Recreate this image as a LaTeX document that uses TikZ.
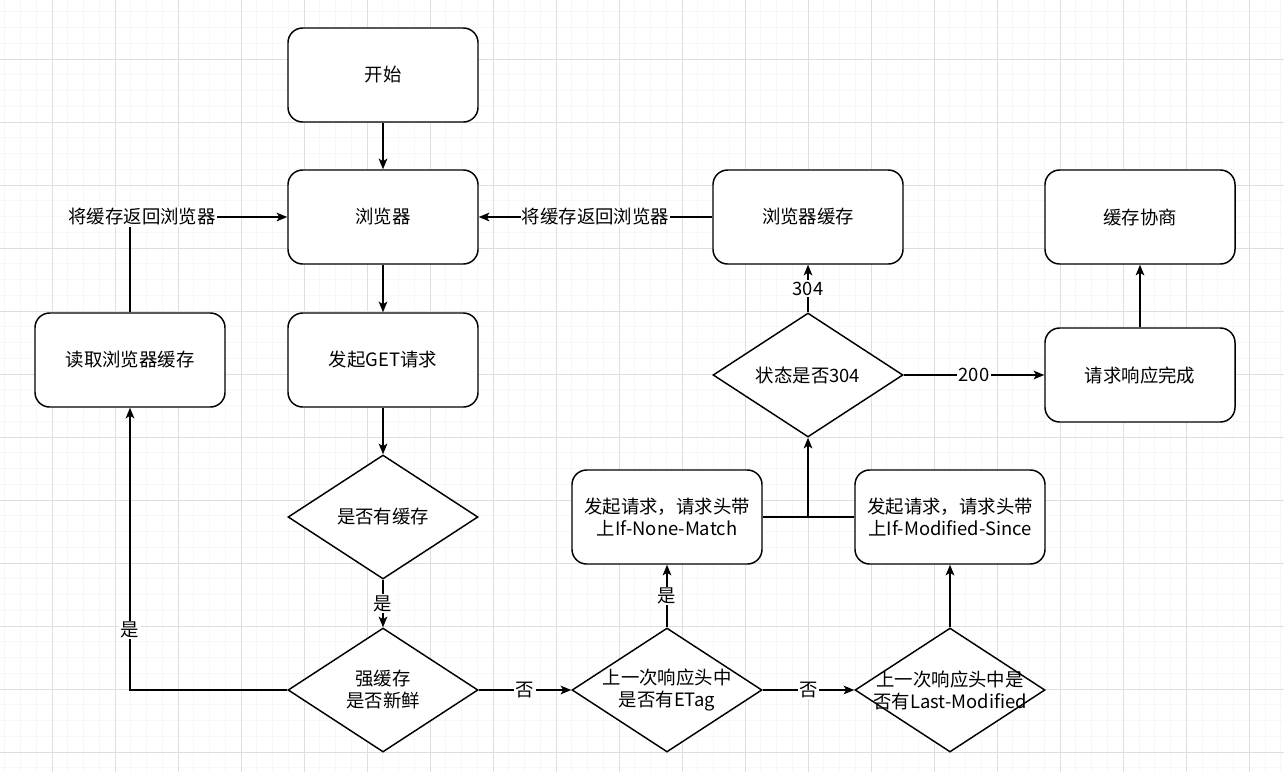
\documentclass[tikz,border=0pt]{standalone}
\usepackage{fontspec}
\setmainfont{Noto Sans CJK SC}
\usetikzlibrary{shapes.geometric,arrows.meta}

\begin{document}
\begin{tikzpicture}[x=0.75pt,y=-0.75pt,
    font=\fontsize{13.8}{16.5}\selectfont,
    line width=1.1pt,
    box/.style={draw,rounded corners=11pt,minimum width=142.5pt,minimum height=70.5pt,align=center,fill=white},
    dia/.style={draw,diamond,minimum width=142.5pt,minimum height=93pt,inner sep=0pt,align=center,fill=white},
    diatext/.style={label={[align=center]center:#1}},
    arr/.style={-{Stealth[length=8pt,width=6.5pt,inset=2pt]}},
    lbl/.style={fill=white,inner sep=1pt},
    gridmaj/.style={draw=black!13,line width=0.6pt},
    gridmin/.style={draw=black!3,line width=0.4pt}]

    \useasboundingbox (0,0) rectangle (1284,772);
    \fill[white] (0,0) rectangle (1284,772);

    % background grid
    \begin{scope}
        \clip (0,0) rectangle (1284,772);
        \foreach \i in {0,...,84} \draw[gridmin] ({-11+15.75*\i},0) -- ({-11+15.75*\i},772);
        \foreach \j in {0,...,52} \draw[gridmin] (0,{-4+15.75*\j}) -- (1284,{-4+15.75*\j});
        \foreach \i in {0,...,21} \draw[gridmaj] ({-11+63*\i},0) -- ({-11+63*\i},772);
        \foreach \j in {0,...,13} \draw[gridmaj] (0,{-4+63*\j}) -- (1284,{-4+63*\j});
    \end{scope}

    \node[box] (start)   at (383,75)  {开始};
    \node[box] (browser) at (383,217) {浏览器};
    \node[box] (get)     at (383,360) {发起GET请求};
    \node[box] (readc)   at (130,360) {读取浏览器缓存};
    \node[dia] (hasc)    at (383,517) {是否有缓存};
    \node[dia] (fresh)   at (383,690) {强缓存\\是否新鲜};
    \node[dia,diatext={上一次响应头中\\是否有ETag}] (etag) at (667,690) {};
    \node[dia,diatext={上一次响应头中是\\否有Last-Modified}] (lastmod) at (950,690) {};
    \node[box] (nonematch) at (667,517) {发起请求，请求头带\\上If-None-Match};
    \node[box] (modsince)  at (950,517) {发起请求，请求头带\\上If-Modified-Since};
    \node[dia] (status)  at (808,375) {状态是否304};
    \node[box] (bcache)  at (808,217) {浏览器缓存};
    \node[box] (done)    at (1140,375) {请求响应完成};
    \node[box] (nego)    at (1140,217) {缓存协商};

    \draw[arr] (start) -- (browser);
    \draw[arr] (browser) -- (get);
    \draw[arr] (get) -- (hasc);
    \draw[arr] (hasc) -- node[lbl] {是} (fresh);

    % cache is fresh: read it and hand it back
    \draw[arr] (fresh.west) -| (readc.south);
    \node[lbl] (yesfresh) at (130,630) {是};
    \draw[arr] (readc.north) |- (browser.west);
    \node[lbl] (backleft) at (142,217) {将缓存返回浏览器};

    \draw[arr] (fresh) -- node[lbl] {否} (etag);
    \draw[arr] (etag) -- node[lbl] {是} (nonematch);
    \draw[arr] (etag) -- node[lbl] {否} (lastmod);
    \draw[arr] (lastmod) -- (modsince);

    \coordinate (join) at (status.south |- nonematch.east);
    \draw (nonematch.east) -- (modsince.west);
    \draw[arr] (join) -- (status.south);

    \draw[arr] (status) -- node[lbl] {304} (bcache);
    \draw[arr] (status) -- node[lbl] {200} (done);
    \draw[arr] (done) -- (nego);
    \draw[arr] (bcache) -- node[lbl] {将缓存返回浏览器} (browser);
\end{tikzpicture}
\end{document}
